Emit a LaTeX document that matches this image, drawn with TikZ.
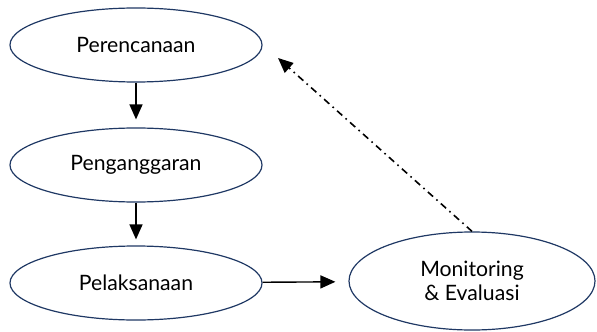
\documentclass[tikz,border=0pt]{standalone}
\usepackage{fontspec}
\setmainfont{Lato}
\usetikzlibrary{arrows.meta,shapes.geometric}
\definecolor{rimblue}{HTML}{1F3864}
\tikzset{
  stage/.style={ellipse,draw=rimblue,line width=0.6pt,minimum width=126pt,minimum height=37pt,inner sep=0pt,align=center,font=\fontsize{10.6}{12}\selectfont},
  flow/.style={-{Triangle[length=7.5pt,width=6.5pt]},line width=0.7pt},
}

\begin{document}
\begin{tikzpicture}[x=0.5pt,y=-0.5pt]
			\useasboundingbox (0,0) rectangle (597,331);
			\node[stage] (perencanaan) at (136,45) {Perencanaan};
			\node[stage] (penganggaran) at (136,165) {Penganggaran};
			\node[stage] (pelaksanaan) at (136,283) {Pelaksanaan};
			\node[stage,minimum width=123pt,minimum height=49pt] (monev) at (472,281) {Monitoring\\\& Evaluasi};
			\coordinate (balik) at (278,58);
			\draw[flow,shorten >=4pt] (perencanaan) -- (penganggaran);
			\draw[flow,shorten >=3pt] (penganggaran) -- (pelaksanaan);
			\draw[flow,shorten >=6.5pt] (pelaksanaan) -- (monev);
			\draw[flow,line width=0.8pt,dash pattern=on 3.5pt off 2.2pt on 0.8pt off 2.2pt] (monev.north) -- (balik);
		\end{tikzpicture}
\end{document}
